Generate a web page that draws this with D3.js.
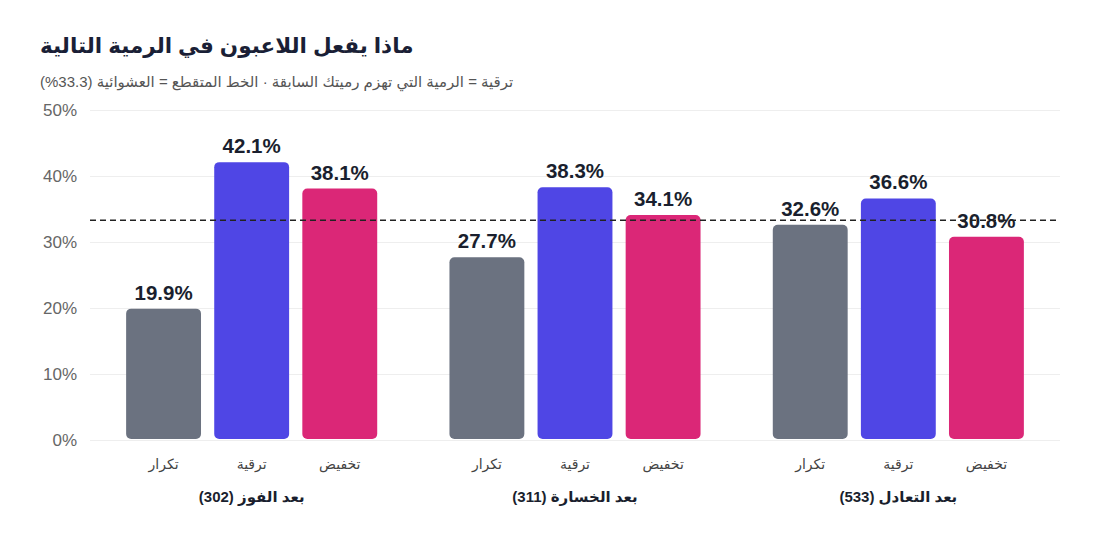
<!DOCTYPE html>
<html>
<head>
<meta charset="utf-8">
<script src="https://cdn.jsdelivr.net/npm/d3@7"></script>
<style>
  body { margin: 0; background: #fff; }
  svg { font-family: "Liberation Sans", "DejaVu Sans", sans-serif; }
</style>
</head>
<body>
<div id="svg-area"></div>
<script>
// ماذا يفعل اللاعبون في الرمية التالية
const width = 1100;
const height = 560;
const margin = {top: 110, left: 90, bottom: 120, right: 40};

const groups = ['بعد الفوز (302)', 'بعد الخسارة (311)', 'بعد التعادل (533)'];
const moves = ['تكرار', 'ترقية', 'تخفيض'];
const colors = ['#6b7280', '#4f46e5', '#db2777'];
const repeatVals = [19.9, 27.7, 32.6];
const upgradeVals = [42.1, 38.3, 36.6];
const downgradeVals = [38.1, 34.1, 30.8];
const yTicks = [0, 10, 20, 30, 40, 50];
const randomLine = 33.3;

const series = [repeatVals, upgradeVals, downgradeVals];
const data = groups.map((g, i) => ({
  group: g,
  bars: moves.map((m, j) => ({move: m, value: series[j][i], color: colors[j]}))
}));

const x0 = d3.scaleBand()
  .domain(groups)
  .range([margin.left, width - margin.right]);

const x1 = d3.scaleBand()
  .domain(moves)
  .range([0, x0.bandwidth()])
  .paddingInner(0.15)
  .paddingOuter(0.41);

const y = d3.scaleLinear()
  .domain([0, 50])
  .range([height - margin.bottom, margin.top]);

const svg = d3.select('#svg-area').append('svg')
  .attr('width', width).attr('height', height);

// title + subtitle
svg.append('text')
  .attr('x', 40).attr('y', 53)
  .attr('direction', 'rtl')
  .attr('text-anchor', 'end')
  .attr('font-size', 21.5).attr('font-weight', 700)
  .attr('fill', '#1a1f36')
  .text('ماذا يفعل اللاعبون في الرمية التالية');

svg.append('text')
  .attr('x', 40).attr('y', 87)
  .attr('direction', 'rtl')
  .attr('text-anchor', 'end')
  .attr('font-size', 15)
  .attr('fill', '#555')
  .text('ترقية = الرمية التي تهزم رميتك السابقة · الخط المتقطع = العشوائية (33.3%)');

// y axis with gridlines
const yAxis = g => g
  .attr('transform', `translate(${margin.left}, 0)`)
  .call(d3.axisLeft(y).tickValues(yTicks).tickFormat(d => d + '%'))
  .call(g => g.select('.domain').remove())
  .call(g => g.selectAll('line')
    .attr('x1', 0)
    .attr('x2', width - margin.right - margin.left)
    .style('stroke', '#eeeeee'))
  .call(g => g.selectAll('text')
    .attr('x', -13)
    .attr('font-size', 17)
    .attr('font-family', '"Liberation Sans", sans-serif')
    .attr('fill', '#666'));

svg.append('g').call(yAxis);

// bars
const grp = svg.append('g')
  .selectAll('g').data(data).enter().append('g')
  .attr('transform', d => `translate(${x0(d.group)}, 0)`);

grp.selectAll('rect').data(d => d.bars).enter().append('rect')
  .attr('x', d => x1(d.move))
  .attr('y', d => y(d.value))
  .attr('width', x1.bandwidth())
  .attr('height', d => y(0) - y(d.value) - 1)
  .attr('rx', 5)
  .attr('fill', d => d.color);

// dashed random line
svg.append('line')
  .attr('x1', margin.left).attr('x2', width - margin.right)
  .attr('y1', y(randomLine)).attr('y2', y(randomLine))
  .attr('stroke', '#222')
  .attr('stroke-width', 1.5)
  .attr('stroke-dasharray', '6,4');

// value labels
grp.selectAll('.val').data(d => d.bars).enter().append('text')
  .attr('class', 'val')
  .attr('x', d => x1(d.move) + x1.bandwidth() / 2)
  .attr('y', d => y(d.value) - 9)
  .attr('text-anchor', 'middle')
  .attr('font-size', 20.5).attr('font-weight', 700)
  .attr('fill', '#1a1f2e')
  .text(d => d.value.toFixed(1) + '%');

// category labels
grp.selectAll('.cat').data(d => d.bars).enter().append('text')
  .attr('class', 'cat')
  .attr('x', d => x1(d.move) + x1.bandwidth() / 2)
  .attr('y', y(0) + 29)
  .attr('direction', 'rtl')
  .attr('text-anchor', 'middle')
  .attr('font-size', 14)
  .attr('fill', '#444')
  .text(d => d.move);

// group labels
grp.append('text')
  .attr('x', x0.bandwidth() / 2)
  .attr('y', y(0) + 62)
  .attr('direction', 'rtl')
  .attr('text-anchor', 'middle')
  .attr('font-size', 15).attr('font-weight', 700)
  .attr('fill', '#1a1f2e')
  .text(d => d.group);
</script>
</body>
</html>
